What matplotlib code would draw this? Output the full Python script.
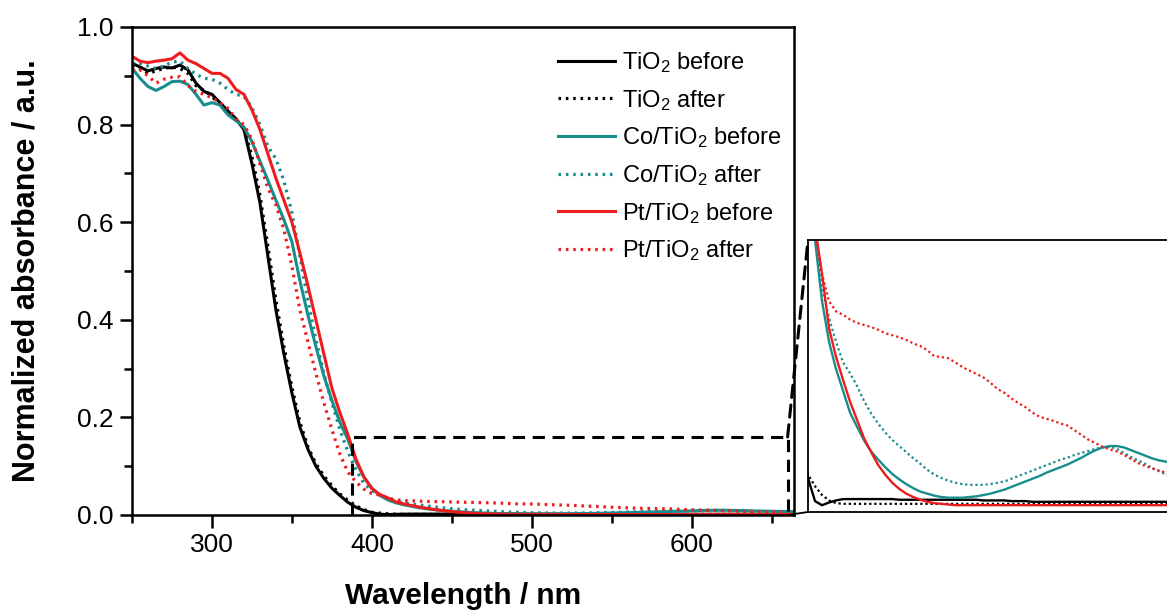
import matplotlib
matplotlib.use("Agg")
import matplotlib.pyplot as plt
from matplotlib.patches import ConnectionPatch
from matplotlib.ticker import MultipleLocator, FormatStrFormatter

plt.rcParams["font.family"] = ["Liberation Sans", "DejaVu Sans"]
plt.rcParams["mathtext.fontset"] = "custom"
plt.rcParams["mathtext.rm"] = "Liberation Sans"
plt.rcParams["mathtext.default"] = "regular"

# Wavelength grid (nm)
wavelength = list(range(250, 670, 5))

tio2_before = [
    0.926, 0.918, 0.910, 0.915, 0.918, 0.916, 0.922, 0.912, 0.885, 0.868,
    0.862, 0.845, 0.828, 0.812, 0.790, 0.720, 0.640, 0.530, 0.420, 0.330,
    0.250, 0.180, 0.135, 0.100, 0.075, 0.055, 0.040, 0.026, 0.016, 0.009,
    0.0050, 0.0016, 0.0010, 0.0014, 0.0017, 0.0019, 0.0019, 0.0019, 0.0019, 0.0019,
    0.0019, 0.0019, 0.0019, 0.0018, 0.0018, 0.0018, 0.0018, 0.0018, 0.0018, 0.0018,
    0.0018, 0.0018, 0.0018, 0.0018, 0.0018, 0.0017, 0.0017, 0.0017, 0.0017, 0.0016,
    0.0016, 0.0016, 0.0015, 0.0015, 0.0015, 0.0015, 0.0015, 0.0015, 0.0015, 0.0015,
    0.0015, 0.0015, 0.0015, 0.0015, 0.0015, 0.0015, 0.0015, 0.0015, 0.0015, 0.0015,
    0.0015, 0.0015, 0.0015, 0.0015,
]

tio2_after = [
    0.920, 0.915, 0.905, 0.910, 0.915, 0.918, 0.915, 0.905, 0.880, 0.870,
    0.858, 0.840, 0.825, 0.810, 0.792, 0.735, 0.655, 0.550, 0.440, 0.345,
    0.262, 0.190, 0.140, 0.105, 0.080, 0.060, 0.043, 0.030, 0.019, 0.011,
    0.0055, 0.0038, 0.0025, 0.0017, 0.0013, 0.0012, 0.0012, 0.0012, 0.0012, 0.0012,
    0.0012, 0.0012, 0.0012, 0.0012, 0.0012, 0.0012, 0.0012, 0.0012, 0.0012, 0.0012,
    0.0012, 0.0012, 0.0012, 0.0012, 0.0012, 0.0012, 0.0012, 0.0012, 0.0012, 0.0012,
    0.0012, 0.0012, 0.0012, 0.0012, 0.0012, 0.0012, 0.0012, 0.0012, 0.0012, 0.0012,
    0.0012, 0.0012, 0.0012, 0.0012, 0.0012, 0.0012, 0.0012, 0.0012, 0.0012, 0.0012,
    0.0012, 0.0012, 0.0012, 0.0012,
]

co_before = [
    0.916, 0.895, 0.878, 0.870, 0.878, 0.888, 0.889, 0.882, 0.862, 0.840,
    0.845, 0.840, 0.820, 0.808, 0.795, 0.765, 0.725, 0.686, 0.645, 0.605,
    0.560, 0.480, 0.410, 0.345, 0.285, 0.235, 0.190, 0.155, 0.110, 0.078,
    0.055, 0.040, 0.031, 0.025, 0.021, 0.0178, 0.0146, 0.0125, 0.0105, 0.0089,
    0.0077, 0.0066, 0.0056, 0.0048, 0.0041, 0.0035, 0.0030, 0.0027, 0.0024, 0.0022,
    0.0021, 0.0021, 0.0021, 0.0022, 0.0023, 0.0025, 0.0027, 0.0030, 0.0033, 0.0037,
    0.0041, 0.0045, 0.0049, 0.0053, 0.0058, 0.0062, 0.0066, 0.0070, 0.0075, 0.0080,
    0.0086, 0.0091, 0.0095, 0.0097, 0.0097, 0.0095, 0.0091, 0.0087, 0.0083, 0.0079,
    0.0076, 0.0074, 0.0072, 0.0071,
]

co_after = [
    0.926, 0.925, 0.920, 0.915, 0.920, 0.928, 0.930, 0.915, 0.903, 0.895,
    0.893, 0.885, 0.872, 0.862, 0.858, 0.835, 0.800, 0.755, 0.730, 0.685,
    0.620, 0.530, 0.440, 0.360, 0.290, 0.230, 0.175, 0.130, 0.093, 0.065,
    0.050, 0.041, 0.033, 0.0285, 0.025, 0.022, 0.0204, 0.0185, 0.0163, 0.0145,
    0.0130, 0.0117, 0.0106, 0.0097, 0.0088, 0.0079, 0.0071, 0.0062, 0.0055, 0.0050,
    0.0046, 0.0043, 0.0041, 0.0040, 0.0040, 0.0040, 0.0041, 0.0043, 0.0045, 0.0049,
    0.0053, 0.0057, 0.0061, 0.0065, 0.0069, 0.0073, 0.0077, 0.0080, 0.0084, 0.0087,
    0.0090, 0.0093, 0.0095, 0.0096, 0.0093, 0.0087, 0.0081, 0.0076, 0.0071, 0.0065,
    0.0060, 0.0055, 0.0051, 0.0049,
]

pt_before = [
    0.940, 0.930, 0.927, 0.930, 0.932, 0.935, 0.947, 0.932, 0.925, 0.915,
    0.905, 0.905, 0.895, 0.872, 0.862, 0.830, 0.790, 0.740, 0.690, 0.645,
    0.600, 0.537, 0.470, 0.400, 0.330, 0.260, 0.210, 0.165, 0.115, 0.078,
    0.054, 0.042, 0.035, 0.027, 0.0228, 0.0194, 0.0162, 0.0135, 0.0108, 0.0088,
    0.0069, 0.0055, 0.0043, 0.0034, 0.0027, 0.0022, 0.0018, 0.0015, 0.0013, 0.0012,
    0.0011, 0.0010, 0.0010, 0.0010, 0.0010, 0.0010, 0.0010, 0.0010, 0.0010, 0.0010,
    0.0010, 0.0010, 0.0010, 0.0010, 0.0010, 0.0010, 0.0010, 0.0010, 0.0010, 0.0010,
    0.0010, 0.0010, 0.0010, 0.0010, 0.0010, 0.0010, 0.0010, 0.0010, 0.0010, 0.0010,
    0.0010, 0.0010, 0.0010, 0.0010,
]

pt_after = [
    0.912, 0.912, 0.900, 0.885, 0.893, 0.897, 0.898, 0.880, 0.868, 0.862,
    0.855, 0.845, 0.833, 0.812, 0.800, 0.770, 0.720, 0.670, 0.635, 0.585,
    0.510, 0.420, 0.355, 0.290, 0.230, 0.175, 0.125, 0.088, 0.068, 0.053,
    0.044, 0.041, 0.035, 0.031, 0.0295, 0.0290, 0.0283, 0.0278, 0.0275, 0.0272,
    0.0268, 0.0263, 0.0260, 0.0257, 0.0253, 0.0248, 0.0244, 0.0238, 0.0229, 0.0228,
    0.0226, 0.0220, 0.0213, 0.0208, 0.0203, 0.0198, 0.0190, 0.0181, 0.0175, 0.0167,
    0.0160, 0.0154, 0.0146, 0.0140, 0.0137, 0.0134, 0.0130, 0.0127, 0.0120, 0.0113,
    0.0106, 0.0101, 0.0096, 0.0092, 0.0089, 0.0084, 0.0078, 0.0072, 0.0068, 0.0064,
    0.0061, 0.0058, 0.0054, 0.0052,
]

labels = [
    "TiO$_2$ before", "TiO$_2$ after",
    "Co/TiO$_2$ before", "Co/TiO$_2$ after",
    "Pt/TiO$_2$ before", "Pt/TiO$_2$ after",
]
series = [tio2_before, tio2_after, co_before, co_after, pt_before, pt_after]

BLACK = "#000000"
TEAL = "#178d8d"
RED = "#ee1c1c"
colors = [BLACK, BLACK, TEAL, TEAL, RED, RED]
dotted = [False, True, False, True, False, True]

# Region magnified in the inset (nm, absorbance)
zoom_x0, zoom_x1, zoom_y0, zoom_y1 = 387.5, 660.0, 0.0, 0.16

W, H = 1167, 614
fig = plt.figure(figsize=(W / 100, H / 100), dpi=100)

ax = fig.add_axes([132 / W, 1 - 515 / H, (794 - 132) / W, (515 - 27) / H])
for y, lab, c, d in zip(series, labels, colors, dotted):
    if d:
        ax.plot(wavelength, y, color=c, lw=2.3, ls=(0, (0.8, 1.5)), label=lab)
    else:
        ax.plot(wavelength, y, color=c, lw=2.2, label=lab)

ax.set_xlim(250, 664)
ax.set_ylim(0, 1.0)
ax.xaxis.set_major_locator(MultipleLocator(100))
ax.xaxis.set_minor_locator(MultipleLocator(50))
ax.yaxis.set_major_locator(MultipleLocator(0.2))
ax.yaxis.set_minor_locator(MultipleLocator(0.1))
ax.yaxis.set_major_formatter(FormatStrFormatter("%.1f"))
ax.tick_params(which="both", direction="out", top=False, right=False,
               width=1.8, labelsize=19, pad=4)
ax.tick_params(which="major", length=9)
ax.tick_params(which="minor", length=6)
for s in ax.spines.values():
    s.set_linewidth(1.8)

ax.set_xlabel("Wavelength / nm", fontsize=21.5, fontweight="bold", labelpad=18)
ax.set_ylabel("Normalized absorbance / a.u.", fontsize=22, fontweight="bold",
              labelpad=26)

# Dashed box marking the magnified region
ax.plot([zoom_x0, zoom_x0, zoom_x1, zoom_x1], [zoom_y0, zoom_y1, zoom_y1, zoom_y0],
        color="k", lw=2.2, ls=(0, (4, 2.5)), clip_on=False, zorder=5)

leg = ax.legend(loc="upper left", bbox_to_anchor=(558 / W, 1 - 50 / H),
                bbox_transform=fig.transFigure, frameon=False, fontsize=17,
                handlelength=2.4, handletextpad=0.3, labelspacing=0.54,
                borderaxespad=0, borderpad=0)

# Inset with the low-absorbance region enlarged
axin = fig.add_axes([808 / W, 1 - 512 / H, (1180 - 808) / W, (512 - 240) / H])
for y, c, d in zip(series, colors, dotted):
    if d:
        axin.plot(wavelength, y, color=c, lw=1.6, ls=(0, (1, 1.3)))
    else:
        axin.plot(wavelength, y, color=c, lw=1.7)
axin.set_xlim(400, 665)
axin.set_ylim(0, 0.04)
axin.set_xticks([])
axin.set_yticks([])
for s in axin.spines.values():
    s.set_linewidth(1.3)

con_top = ConnectionPatch(xyA=(zoom_x1, zoom_y1), coordsA=ax.transData,
                          xyB=(0, 1), coordsB=axin.transAxes,
                          color="k", lw=2.2, ls=(0, (4, 2.5)))
con_bot = ConnectionPatch(xyA=(zoom_x1, zoom_y0), coordsA=ax.transData,
                          xyB=(0, 0), coordsB=axin.transAxes,
                          color="k", lw=1.3)
fig.add_artist(con_top)
fig.add_artist(con_bot)

fig.savefig("out.png", dpi=100)
